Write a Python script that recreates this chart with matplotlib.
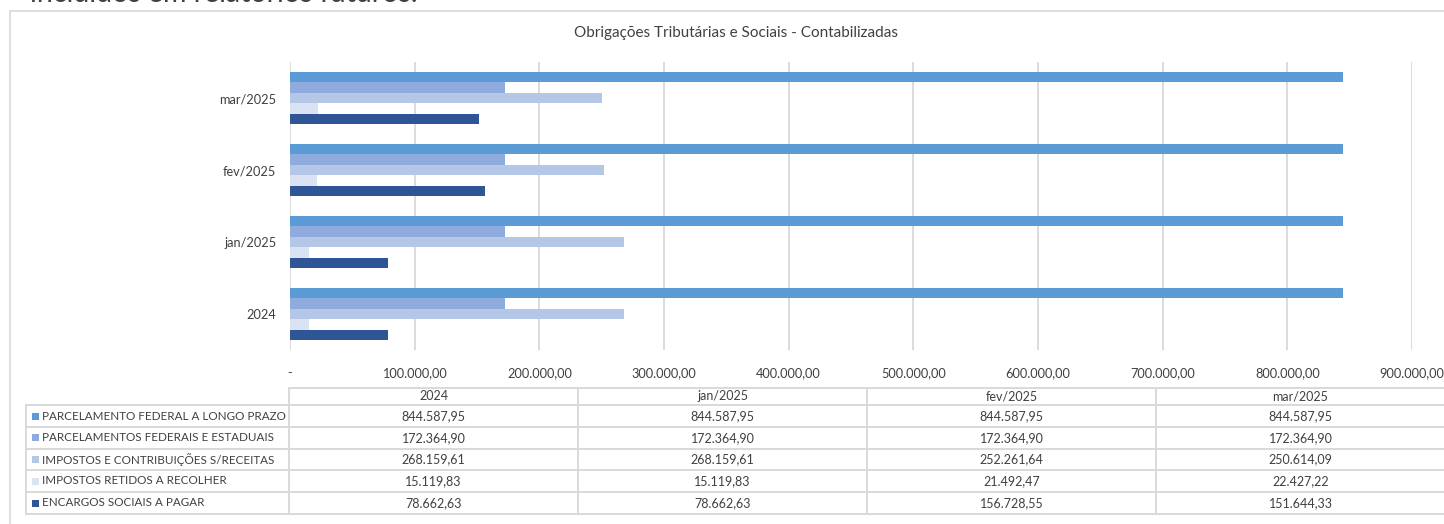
import matplotlib
matplotlib.use("Agg")
import matplotlib.pyplot as plt
from matplotlib.lines import Line2D
from matplotlib.patches import Rectangle
import numpy as np

plt.rcParams['font.family'] = ['Lato', 'DejaVu Sans']

# ---------------- data ----------------
categories = ["2024", "jan/2025", "fev/2025", "mar/2025"]
series_names = [
    "PARCELAMENTO FEDERAL A LONGO PRAZO",
    "PARCELAMENTOS FEDERAIS E ESTADUAIS",
    "IMPOSTOS E CONTRIBUIÇÕES S/RECEITAS",
    "IMPOSTOS RETIDOS A RECOLHER",
    "ENCARGOS SOCIAIS A PAGAR",
]
parcelamento_lp = [844587.95, 844587.95, 844587.95, 844587.95]
parcelamentos_fe = [172364.90, 172364.90, 172364.90, 172364.90]
impostos_receitas = [268159.61, 268159.61, 252261.64, 250614.09]
impostos_retidos = [15119.83, 15119.83, 21492.47, 22427.22]
encargos_sociais = [78662.63, 78662.63, 156728.55, 151644.33]
xticks = [0, 100000, 200000, 300000, 400000, 500000, 600000, 700000, 800000, 900000]
title = "Obrigações Tributárias e Sociais - Contabilizadas"
top_text = "incluídos em relatórios futuros."

series_values = [parcelamento_lp, parcelamentos_fe, impostos_receitas,
                 impostos_retidos, encargos_sociais]
colors = ["#5B9BD5", "#8FAADC", "#B4C7E7", "#DAE3F3", "#2F5597"]


def br(v):
    s = f"{v:,.2f}"
    return s.replace(",", "X").replace(".", ",").replace("X", ".")


W, H = 1444, 524
fig = plt.figure(figsize=(W / 100, H / 100), dpi=100)


def fx(x):
    return x / W


def fy(y):
    return 1 - y / H


grid_c = "#D9D9D9"
text_c = "#404040"

# outer chart border
fig.add_artist(Rectangle((fx(10), fy(600)), fx(1480) - fx(10), fy(11) - fy(600),
                         transform=fig.transFigure, fill=False, edgecolor=grid_c,
                         linewidth=1.2, zorder=0))

# cropped text on top
fig.text(fx(30), fy(2), top_text, fontsize=20.5, color="#404040", ha="left",
         va="baseline", fontweight="normal")

# title
fig.text(fx(736), fy(33), title, fontsize=11, color=text_c, ha="center", va="center")

# ---------------- bar axes ----------------
x0, x1 = 290, 1412
ytop, ybot = 62, 350
ax = fig.add_axes([fx(x0), fy(ybot), fx(x1) - fx(x0), fy(ytop) - fy(ybot)])
n = len(series_values)
h = 52 / 72 / n
ypos = np.arange(len(categories))
for i, (vals, col) in enumerate(zip(series_values, colors)):
    offset = (n - 1) / 2 * h - i * h
    ax.barh(ypos + offset, vals, height=h, color=col, zorder=3, linewidth=0)

ax.set_xlim(0, 900000)
ax.set_ylim(-0.5, len(categories) - 0.5)
ax.set_yticks(ypos)
ax.set_yticklabels(categories, fontsize=9.2, color=text_c)
ax.set_xticks(xticks)
ax.set_xticklabels(["-" if v == 0 else br(v) for v in xticks], fontsize=9.2, color=text_c)
ax.tick_params(axis="both", length=0)
ax.tick_params(axis="y", pad=10)
ax.tick_params(axis="x", pad=12)
ax.grid(axis="x", color=grid_c, linewidth=1.3, zorder=0)
for sp in ax.spines.values():
    sp.set_visible(False)

# ---------------- data table ----------------
col_edges = [289, 578, 867, 1156, 1445]
row_edges = [388, 405, 427, 448.5, 470, 492, 514]
tleft = 26
right_end = 1460


def hline(y, xa, xb):
    fig.add_artist(Line2D([fx(xa), fx(xb)], [fy(y), fy(y)], transform=fig.transFigure,
                          color=grid_c, linewidth=1.4))


def vline(x, ya, yb):
    fig.add_artist(Line2D([fx(x), fx(x)], [fy(ya), fy(yb)], transform=fig.transFigure,
                          color=grid_c, linewidth=1.4))


hline(row_edges[0], col_edges[0], right_end)
for y in row_edges[1:]:
    hline(y, tleft, right_end)
vline(tleft, row_edges[1], row_edges[-1])
for x in col_edges:
    vline(x, row_edges[0], row_edges[-1])

for j, cat in enumerate(categories):
    cx = (col_edges[j] + col_edges[j + 1]) / 2
    cy = (row_edges[0] + row_edges[1]) / 2
    fig.text(fx(cx), fy(cy), cat, fontsize=9, color=text_c, ha="center", va="center")

for i, (name, vals, col) in enumerate(zip(series_names, series_values, colors)):
    cy = (row_edges[i + 1] + row_edges[i + 2]) / 2
    fig.add_artist(Rectangle((fx(32), fy(cy + 3.5)), fx(7), fy(0) - fy(7),
                             transform=fig.transFigure, facecolor=col, edgecolor="none"))
    fig.text(fx(42), fy(cy), name, fontsize=8.4, color=text_c, ha="left", va="center")
    for j, v in enumerate(vals):
        cx = (col_edges[j] + col_edges[j + 1]) / 2
        fig.text(fx(cx), fy(cy), br(v), fontsize=9, color=text_c, ha="center", va="center")

fig.savefig("out.png", dpi=100, facecolor="white")
